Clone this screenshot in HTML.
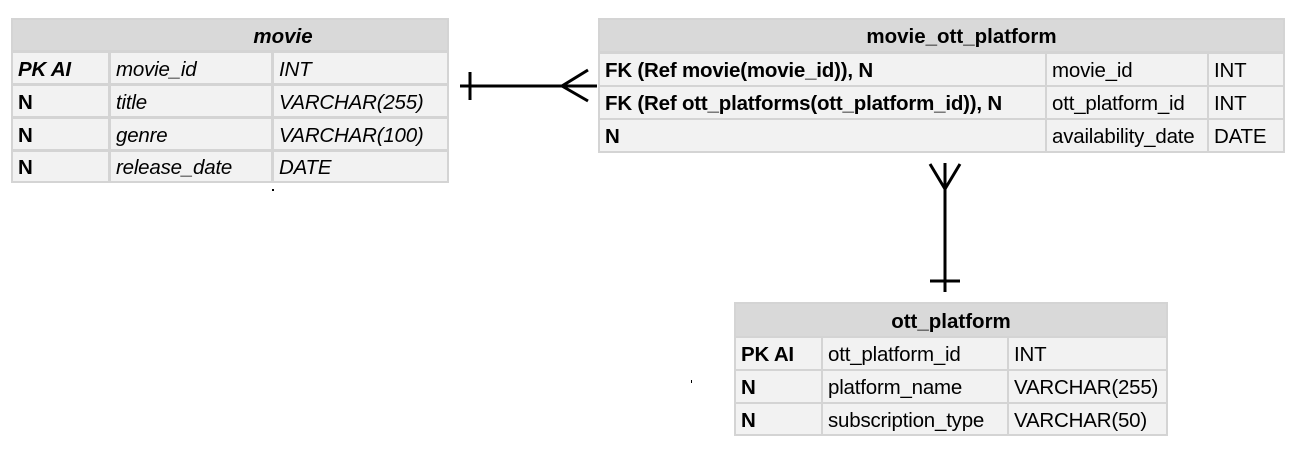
<!DOCTYPE html>
<html><head><meta charset="utf-8"><style>
body{margin:0;width:1302px;height:450px;background:#fff;position:relative;overflow:hidden;font-family:"Liberation Sans",Arial,sans-serif;font-size:20.5px;color:#000}
.t{position:absolute;background:#d4d4d4;}
.c{position:absolute;background:#f2f2f2;box-sizing:border-box;padding-left:5px;padding-top:3px;display:flex;align-items:center;white-space:nowrap;letter-spacing:-0.2px}
.h{position:absolute;background:#d9d9d9;display:flex;align-items:center;justify-content:center;font-weight:bold;padding-top:3px;box-sizing:border-box}
.i{font-style:italic}.b{font-weight:bold}
</style></head><body>
<!-- movie -->
<div class="t" style="left:11px;top:18px;width:438px;height:165px"></div>
<div class="h i" style="left:13px;top:20px;width:434px;height:30px;padding-left:106px;justify-content:center">movie</div>
<div class="c b i" style="left:13px;top:53px;width:95px;height:30px">PK AI</div>
<div class="c i" style="left:111px;top:53px;width:160px;height:30px">movie_id</div>
<div class="c i" style="left:274px;top:53px;width:173px;height:30px">INT</div>
<div class="c b" style="left:13px;top:86px;width:95px;height:30px">N</div>
<div class="c i" style="left:111px;top:86px;width:160px;height:30px">title</div>
<div class="c i" style="left:274px;top:86px;width:173px;height:30px">VARCHAR(255)</div>
<div class="c b" style="left:13px;top:119px;width:95px;height:30px">N</div>
<div class="c i" style="left:111px;top:119px;width:160px;height:30px">genre</div>
<div class="c i" style="left:274px;top:119px;width:173px;height:30px">VARCHAR(100)</div>
<div class="c b" style="left:13px;top:152px;width:95px;height:29px">N</div>
<div class="c i" style="left:111px;top:152px;width:160px;height:29px">release_date</div>
<div class="c i" style="left:274px;top:152px;width:173px;height:29px">DATE</div>
<div style="position:absolute;left:272px;top:189px;width:2px;height:2px;background:#000"></div>

<!-- movie_ott_platform -->
<div class="t" style="left:598px;top:18px;width:687px;height:135px"></div>
<div class="h" style="left:600px;top:20px;width:683px;height:31px;padding-left:40px">movie_ott_platform</div>
<div class="c b" style="left:600px;top:54px;width:445px;height:31px">FK (Ref movie(movie_id)), N</div>
<div class="c" style="left:1047px;top:54px;width:160px;height:31px">movie_id</div>
<div class="c" style="left:1209px;top:54px;width:74px;height:31px">INT</div>
<div class="c b" style="left:600px;top:87px;width:445px;height:31px">FK (Ref ott_platforms(ott_platform_id)), N</div>
<div class="c" style="left:1047px;top:87px;width:160px;height:31px">ott_platform_id</div>
<div class="c" style="left:1209px;top:87px;width:74px;height:31px">INT</div>
<div class="c b" style="left:600px;top:120px;width:445px;height:31px">N</div>
<div class="c" style="left:1047px;top:120px;width:160px;height:31px">availability_date</div>
<div class="c" style="left:1209px;top:120px;width:74px;height:31px">DATE</div>

<!-- ott_platform -->
<div class="t" style="left:734px;top:302px;width:434px;height:134px"></div>
<div class="h" style="left:736px;top:304px;width:430px;height:32px">ott_platform</div>
<div class="c b" style="left:736px;top:338px;width:85px;height:31px">PK AI</div>
<div class="c" style="left:823px;top:338px;width:184px;height:31px">ott_platform_id</div>
<div class="c" style="left:1009px;top:338px;width:157px;height:31px">INT</div>
<div class="c b" style="left:736px;top:371px;width:85px;height:31px">N</div>
<div class="c" style="left:823px;top:371px;width:184px;height:31px">platform_name</div>
<div class="c" style="left:1009px;top:371px;width:157px;height:31px">VARCHAR(255)</div>
<div class="c b" style="left:736px;top:404px;width:85px;height:30px">N</div>
<div class="c" style="left:823px;top:404px;width:184px;height:30px">subscription_type</div>
<div class="c" style="left:1009px;top:404px;width:157px;height:30px">VARCHAR(50)</div>
<div style="position:absolute;left:691px;top:380px;width:1px;height:3px;background:#000"></div>

<svg width="1302" height="450" style="position:absolute;left:0;top:0" fill="none" stroke="#000" stroke-width="3">
<line x1="460" y1="86" x2="597" y2="86"/>
<line x1="470" y1="72" x2="470" y2="100"/>
<polyline points="588,70 562,86 588,101"/>
<line x1="945" y1="163" x2="945" y2="292"/>
<polyline points="930,164 945,189 960,164"/>
<line x1="930" y1="281" x2="960" y2="281"/>
</svg>
</body></html>
